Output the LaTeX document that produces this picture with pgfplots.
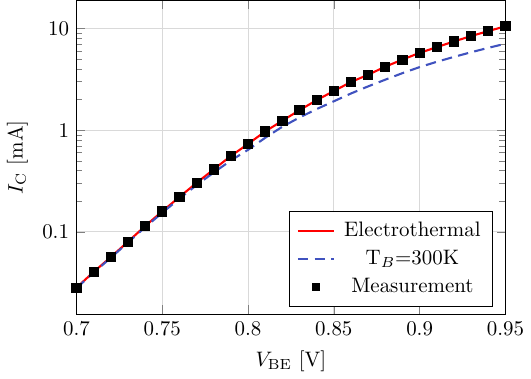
\documentclass[border=0pt]{standalone}
\usepackage{pgfplots}
\pgfplotsset{compat=1.18}
\definecolor{myblue}{rgb}{0.25,0.32,0.75}
\begin{document}
\begin{tikzpicture}
\begin{axis}[
  width=205pt, height=150pt, scale only axis,
  ymode=log,
  xmin=0.7, xmax=0.95,
  ymin=0.0155, ymax=18.8,
  xtick={0.7,0.75,0.8,0.85,0.9,0.95},
  xticklabels={0.7,0.75,0.8,0.85,0.9,0.95},
  ytick={0.1,1,10},
  yticklabels={0.1,1,10},
  grid=major,
  major grid style={gray!30},
  xlabel={$V_{\mathrm{BE}}$ [V]},
  ylabel={$I_{\mathrm{C}}$ [mA]},
  legend cell align=center,
  legend style={at={(0.97,0.025)}, anchor=south east, draw=black, fill=white,
    row sep=1pt, column sep=2.5pt, inner ysep=3pt, inner xsep=3.5pt},
]
\addplot[red, line width=1pt] coordinates {
(0.70,0.0283) (0.71,0.0404) (0.72,0.0565) (0.73,0.080) (0.74,0.114)
(0.75,0.159) (0.76,0.220) (0.77,0.303) (0.78,0.411) (0.79,0.557)
(0.80,0.731) (0.81,0.97) (0.82,1.236) (0.83,1.57) (0.84,1.97)
(0.85,2.42) (0.86,2.97) (0.87,3.50) (0.88,4.20) (0.89,4.93)
(0.90,5.74) (0.91,6.53) (0.92,7.43) (0.93,8.39) (0.94,9.40) (0.95,10.47)
};
\addlegendentry{Electrothermal}
\addplot[myblue, line width=1pt, dash pattern=on 5pt off 3pt] coordinates {
(0.70,0.0280) (0.71,0.0398) (0.72,0.0556) (0.73,0.0785) (0.74,0.111)
(0.75,0.154) (0.76,0.212) (0.77,0.288) (0.78,0.383) (0.79,0.503)
(0.80,0.640) (0.81,0.84) (0.82,1.08) (0.83,1.33) (0.84,1.61)
(0.85,1.92) (0.86,2.29) (0.87,2.69) (0.88,3.13) (0.89,3.63)
(0.90,4.16) (0.91,4.69) (0.92,5.24) (0.93,5.82) (0.94,6.43) (0.95,7.06)
};
\addlegendentry{T$_B$=300K}
\addplot[only marks, mark=square*, mark size=2.2pt, black,
  legend image post style={mark size=1.8pt}] coordinates {
(0.70,0.0283) (0.71,0.0404) (0.72,0.0565) (0.73,0.080) (0.74,0.114)
(0.75,0.159) (0.76,0.220) (0.77,0.303) (0.78,0.411) (0.79,0.557)
(0.80,0.731) (0.81,0.97) (0.82,1.236) (0.83,1.57) (0.84,1.97)
(0.85,2.42) (0.86,2.97) (0.87,3.50) (0.88,4.20) (0.89,4.93)
(0.90,5.74) (0.91,6.53) (0.92,7.43) (0.93,8.39) (0.94,9.40) (0.95,10.47)
};
\addlegendentry{Measurement}
\end{axis}
\end{tikzpicture}
\end{document}
